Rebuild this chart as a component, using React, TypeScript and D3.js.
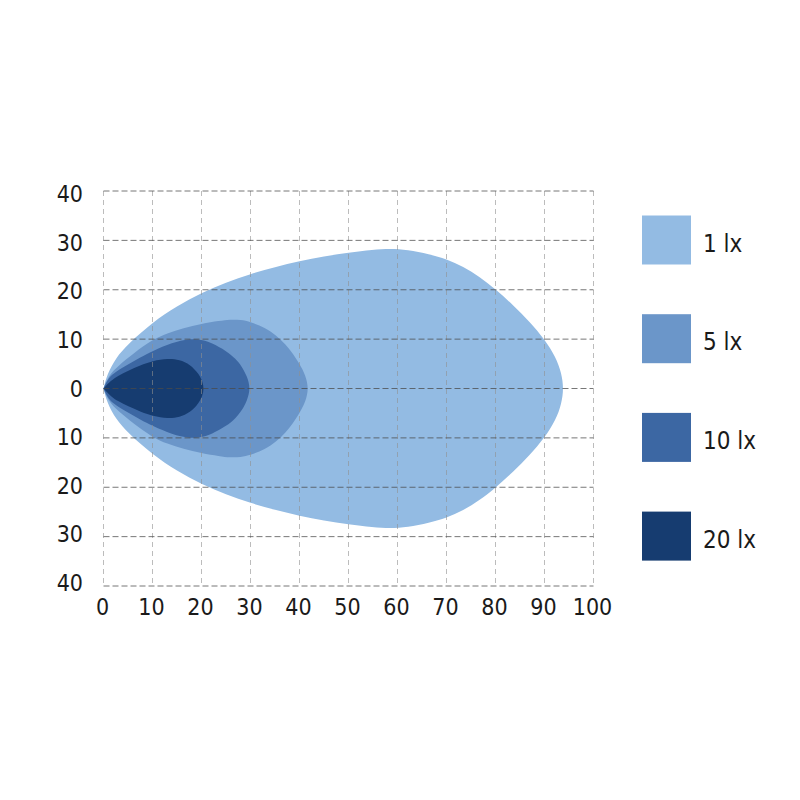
import React from "react";
import * as d3 from "d3";

// Data: upper half of each isolux contour (distance m, half-width m); mirrored for lower half
const levels = ["1 lx", "5 lx", "10 lx", "20 lx"];
const colors = ["#93bbe3", "#6b96c9", "#3c67a3", "#163c70"];

const contour1: [number, number][] = [
  [0, 0], [0.7, 2.8], [2.5, 6.2], [5, 9.0], [10, 13.4], [15, 16.7], [20, 19.4], [25, 21.5],
  [30, 23.2], [35, 24.6], [40, 25.8], [45, 26.8], [50, 27.5], [55, 28.1], [58.5, 28.3],
  [62, 28.1], [66.5, 27.2], [70, 26.2], [73.4, 24.7], [76.8, 22.6], [80, 20.1], [83.6, 16.9],
  [87, 13.5], [90, 10.0], [92.3, 6.4], [93.5, 3.0], [93.9, 0],
];
const contour5: [number, number][] = [
  [0, 0], [1, 2.6], [3, 4.6], [6.1, 7.1], [10, 9.9], [13, 11.2], [16.3, 12.2], [20, 13.1],
  [23.7, 13.7], [25.8, 14.0], [28, 13.9], [30, 13.5], [33, 12.3], [35.2, 10.8], [37.2, 8.9],
  [38.7, 7.0], [40, 5.0], [41.2, 2.8], [41.9, 0],
];
const contour10: [number, number][] = [
  [0, 0], [1, 2.2], [2.5, 3.4], [5, 4.9], [7.5, 6.3], [10, 7.6], [14, 9.3], [17.6, 10.1],
  [20, 9.9], [22, 9.3], [25.1, 7.6], [27, 6.0], [28.2, 4.5], [29.3, 2.5], [30, 0],
];
const contour20: [number, number][] = [
  [0, 0], [1.5, 1.6], [3, 2.6], [5, 3.6], [7.5, 4.7], [10, 5.6], [13.2, 6.1], [15.5, 5.8],
  [17.7, 4.9], [19.4, 3.0], [20.2, 1.5], [20.5, 0],
];
const contours = [contour1, contour5, contour10, contour20];

const xTicks = [0, 10, 20, 30, 40, 50, 60, 70, 80, 90, 100];
const yTicks = [40, 30, 20, 10, 0, -10, -20, -30, -40];

const FONT = "'Liberation Sans Narrow', 'DejaVu Sans Condensed', 'Roboto Condensed', sans-serif";

export default function App() {
  const x = d3.scaleLinear().domain([0, 100]).range([103.5, 593.5]);
  const y = d3.scaleLinear().domain([40, -40]).range([191, 586]);
  // label baseline scale (labels are spaced slightly tighter than the grid)
  const yLab = d3.scaleLinear().domain([40, -40]).range([202, 591]);

  const line = d3
    .line<[number, number]>()
    .x((d) => x(d[0]))
    .y((d) => y(d[1]))
    .curve(d3.curveBasis);

  const closedPath = (pts: [number, number][]) => {
    const lower = pts.slice(0, -1).reverse().map((p) => [p[0], -p[1]] as [number, number]);
    return line([...pts, ...lower]) + "Z";
  };

  return (
    <svg width={800} height={800} style={{ position: "absolute", left: 0, top: 0 }}>
      <rect width={800} height={800} fill="#ffffff" />
      {contours.map((c, i) => (
        <path key={i} d={closedPath(c)} fill={colors[i]} />
      ))}
      {/* grid */}
      {xTicks.map((t) => (
        <line
          key={"vx" + t}
          x1={x(t)}
          x2={x(t)}
          y1={y(40)}
          y2={y(-40)}
          stroke="#8f8f8f"
          strokeOpacity={0.6}
          strokeWidth={1}
          strokeDasharray="5 4"
        />
      ))}
      {yTicks.map((t) => (
        <line
          key={"hy" + t}
          x1={x(0)}
          x2={x(100)}
          y1={y(t)}
          y2={y(t)}
          stroke="#4a4a4a"
          strokeOpacity={0.75}
          strokeWidth={1}
          strokeDasharray="6 3"
        />
      ))}
      {/* y labels */}
      {yTicks.map((t) => (
        <text
          key={"yl" + t}
          x={83}
          y={yLab(t)}
          textAnchor="end"
          fontFamily={FONT}
          fontSize={23}
          fill="#1a1a1a"
        >
          {Math.abs(t)}
        </text>
      ))}
      {/* x labels */}
      {xTicks.map((t) => (
        <text
          key={"xl" + t}
          x={x(t) - 1}
          y={615}
          textAnchor="middle"
          fontFamily={FONT}
          fontSize={23}
          fill="#1a1a1a"
        >
          {t}
        </text>
      ))}
      {/* legend */}
      {levels.map((l, i) => {
        const cy = 240 + i * 98.7;
        return (
          <g key={l}>
            <rect x={642} y={cy - 24.5} width={49} height={49} fill={colors[i]} />
            <text x={703} y={cy + 11.5} fontFamily={FONT} fontSize={24} fill="#1a1a1a">
              {l}
            </text>
          </g>
        );
      })}
    </svg>
  );
}
